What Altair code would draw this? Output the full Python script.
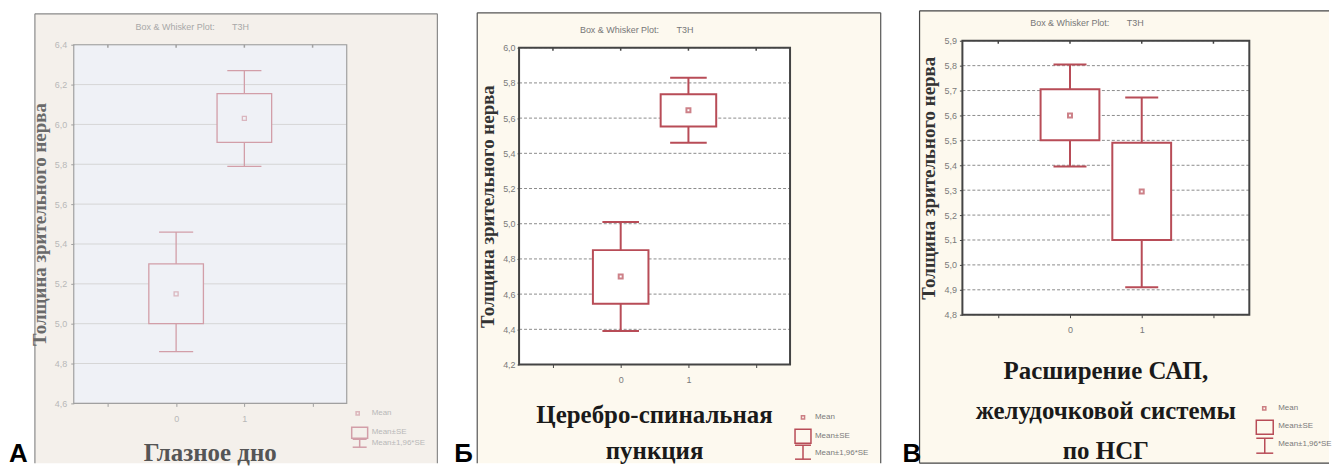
import altair as alt
import pandas as pd

# ---------------- data ----------------
groups = [0, 1]
x_tick_values = [-1, 0, 1, 2]

# Panel А  (Глазное дно)
a_mean = [5.15, 6.03]
a_se_lo = [5.00, 5.91]
a_se_hi = [5.30, 6.155]
a_ci_lo = [4.86, 5.79]
a_ci_hi = [5.46, 6.27]
a_ticks = [4.6, 4.8, 5.0, 5.2, 5.4, 5.6, 5.8, 6.0, 6.2, 6.4]

# Panel Б  (Церебро-спинальная пункция)
b_mean = [4.70, 5.645]
b_se_lo = [4.545, 5.553]
b_se_hi = [4.85, 5.735]
b_ci_lo = [4.39, 5.46]
b_ci_hi = [5.01, 5.83]
b_ticks = [4.2, 4.4, 4.6, 4.8, 5.0, 5.2, 5.4, 5.6, 5.8, 6.0]

# Panel В  (Расширение САП ...)
c_mean = [5.60, 5.295]
c_se_lo = [5.50, 5.10]
c_se_hi = [5.705, 5.49]
c_ci_lo = [5.395, 4.91]
c_ci_hi = [5.805, 5.672]
c_ticks = [4.8, 4.9, 5.0, 5.1, 5.2, 5.3, 5.4, 5.5, 5.6, 5.7, 5.8, 5.9]

y_title = "Толщина зрительного нерва"
plot_title = "Box & Whisker Plot:" + "\u00a0" * 7 + "T3H"
legend_labels = ["Mean", "Mean±SE", "Mean±1,96*SE"]
a_xtitle = ["Глазное дно"]
b_xtitle = ["Церебро-спинальная", "пункция"]
c_xtitle = ["Расширение САП,", "желудочковой системы", "по НСГ"]
panel_letters = ["А", "Б", "В"]

SANS = "Liberation Sans"
SERIF = "Liberation Serif"


def V(**kw):
    return {k: alt.value(v) for k, v in kw.items()}


def panel(mean, se_lo, se_hi, ci_lo, ci_hi, ticks, xtitle, letter, st):
    df = pd.DataFrame({"g": groups, "mean": mean, "se_lo": se_lo, "se_hi": se_hi,
                       "ci_lo": ci_lo, "ci_hi": ci_hi})
    df["box_l"] = df["g"] - st["box"]
    df["box_r"] = df["g"] + st["box"]
    df["cap_l"] = df["g"] - st["cap"]
    df["cap_r"] = df["g"] + st["cap"]
    tick_df = pd.DataFrame({"v": ticks})
    xtick_df = pd.DataFrame({"g": x_tick_values})
    one = pd.DataFrame({"k": [0]})
    w, top, bot = st["w"], st["top"], st["bot"]
    col = st["color"]

    xs = alt.Scale(domain=[-1.5, 2.5], nice=False, zero=False)
    ys = alt.Scale(domain=[ticks[0], ticks[-1]], range=[bot, top], nice=False, zero=False)
    yaxis = alt.Axis(values=ticks, labelExpr="replace(format(datum.value, '.1f'), '.', ',')",
                     grid=False, domain=False, ticks=True, tickSize=st["ytick"],
                     tickColor=st["border"], labelPadding=st["ylab_pad"], labelFontSize=9,
                     labelFont=SANS, labelColor=st["label_color"], labelOverlap=False,
                     labelFlush=False, title=y_title, titleFont=SERIF, titleFontWeight="bold",
                     titleFontSize=19, titleColor=st["ytitle_color"], titleAngle=270,
                     titleX=st["ytitle_x"], titleY=(top + bot) / 2, titleAlign="center",
                     titleBaseline="middle", zindex=1)
    xaxis = alt.Axis(values=x_tick_values,
                     labelExpr="datum.value == 0 || datum.value == 1 ? format(datum.value, 'd') : ''",
                     grid=False, domain=False, tickSize=3, tickColor=st["border"],
                     labelPadding=8, labelFontSize=9, labelFont=SANS,
                     labelColor=st["label_color"], labelOverlap=False, labelFlush=False,
                     title=None, zindex=1)

    def X(f):
        return alt.X(f"{f}:Q", scale=xs, axis=xaxis)

    def Y(f):
        return alt.Y(f"{f}:Q", scale=ys, axis=yaxis)

    fx0, fx1, fy0, fy1 = st["frame"]
    layers = []
    # outer frame
    layers.append(alt.Chart(one).mark_rect(fill=st["frame_fill"]).encode(
        **V(x=fx0, x2=fx1, y=fy0, y2=fy1)))
    for e in st["edges"]:
        if e == "top":
            enc = V(x=fx0, x2=fx1, y=fy0)
        elif e == "bottom":
            enc = V(x=fx0, x2=fx1, y=fy1)
        elif e == "left":
            enc = V(x=fx0, y=fy0, y2=fy1)
        else:
            enc = V(x=fx1, y=fy0, y2=fy1)
        layers.append(alt.Chart(one).mark_rule(color=st["frame_stroke"], strokeWidth=1.2).encode(**enc))
    # plot area background
    layers.append(alt.Chart(one).mark_rect(fill=st["plot_bg"]).encode(
        **V(x=0, x2=w, y=top, y2=bot)))
    # grid
    grid_kw = dict(color=st["grid_color"], strokeWidth=1)
    if st["grid_dash"]:
        grid_kw["strokeDash"] = st["grid_dash"]
    layers.append(alt.Chart(tick_df).mark_rule(**grid_kw).encode(
        y=Y("v"), x=alt.value(0), x2=alt.value(w)))
    # small inward ticks on the top edge (Statistica style)
    layers.append(alt.Chart(xtick_df).mark_rule(color=st["border"], strokeWidth=1.5).encode(
        x=X("g"), y=alt.value(top), y2=alt.value(top + 3)))
    # plot border
    layers.append(alt.Chart(one).mark_rect(fill="transparent", stroke=st["border"],
                                           strokeWidth=st["border_w"]).encode(
        **V(x=0, x2=w, y=top, y2=bot)))
    # whiskers
    layers.append(alt.Chart(df).mark_rule(color=col, strokeWidth=st["lw"]).encode(
        x=X("g"), y=Y("ci_lo"), y2="ci_hi:Q"))
    layers.append(alt.Chart(df).mark_rule(color=col, strokeWidth=st["lw"]).encode(
        x=X("cap_l"), x2="cap_r:Q", y=Y("ci_hi")))
    layers.append(alt.Chart(df).mark_rule(color=col, strokeWidth=st["lw"]).encode(
        x=X("cap_l"), x2="cap_r:Q", y=Y("ci_lo")))
    # boxes
    layers.append(alt.Chart(df).mark_rect(fill=st["plot_bg"], stroke=col,
                                          strokeWidth=st["lw"]).encode(
        x=X("box_l"), x2="box_r:Q", y=Y("se_lo"), y2="se_hi:Q"))
    # means
    layers.append(alt.Chart(df).mark_point(shape="square", size=16, filled=False, color=col,
                                           strokeWidth=st["lw"]).encode(
        x=X("g"), y=Y("mean")))
    # chart caption
    tx, ty = st["title_pos"]
    layers.append(alt.Chart(one).mark_text(font=SANS, fontSize=9, color=st["caption_color"],
                                           align="center", baseline="middle").encode(
        **V(x=tx, y=ty, text=plot_title)))
    # x title
    layers.append(alt.Chart(one).mark_text(font=SERIF, fontWeight="bold", fontSize=st["xt_size"],
                                           color=st["xtitle_color"], align="center",
                                           baseline="alphabetic", lineHeight=st["xt_lh"]).encode(
        **V(x=w / 2, y=st["xt_y"], text=xtitle)))
    # panel letter
    layers.append(alt.Chart(one).mark_text(font=SANS, fontWeight="bold", fontSize=26,
                                           color="black", align="left",
                                           baseline="alphabetic").encode(
        **V(x=st["letter_x"], y=423, text=letter)))
    # legend
    lg = st["legend"]
    layers.append(alt.Chart(one).mark_point(shape="square", size=10, filled=False, color=col,
                                            strokeWidth=1.5).encode(
        **V(x=lg["mx"], y=lg["ty"][0])))
    bx0, bx1, by0, by1 = lg["box"]
    layers.append(alt.Chart(one).mark_rect(fill="transparent", stroke=col, strokeWidth=1.5).encode(
        **V(x=bx0, x2=bx1, y=by0, y2=by1)))
    wx0, wx1, wy0, wy1 = lg["whisk"]
    wm = (wx0 + wx1) / 2
    layers.append(alt.Chart(one).mark_rule(color=col, strokeWidth=1.5).encode(
        **V(x=wm, y=wy0, y2=wy1)))
    layers.append(alt.Chart(one).mark_rule(color=col, strokeWidth=1.5).encode(
        **V(x=wx0, x2=wx1, y=wy0)))
    layers.append(alt.Chart(one).mark_rule(color=col, strokeWidth=1.5).encode(
        **V(x=wx0, x2=wx1, y=wy1)))
    for lab, ly in zip(legend_labels, lg["ty"]):
        layers.append(alt.Chart(one).mark_text(font=SANS, fontSize=8, color=st["label_color"],
                                               align="left", baseline="middle").encode(
            **V(x=lg["tx"], y=ly, text=lab)))

    return alt.layer(*layers).properties(width=w, height=bot)


st_a = dict(w=274, top=4, bot=364, box=0.4, cap=0.25, color="#d29ea8", lw=1.3,
            frame_fill="#f4f0eb", frame_stroke="#8a8a8a", frame=(-39, 365, -27, 424),
            edges=["top", "left", "right"], plot_bg="#eff1f6", grid_color="#d6d6d6",
            grid_dash=[], border="#a0a0a0", border_w=1.2, label_color="#b8b8b8",
            caption_color="#a8a8a8", ytitle_color="#6a6a6a", ytitle_x=-34, ylab_pad=4,
            ytick=3, xtitle_color="#555555", xt_size=25, xt_lh=36, xt_y=422,
            title_pos=(119, -14), letter_x=-65,
            legend=dict(mx=285, box=(279, 295, 388, 399), whisk=(280, 294, 400, 408),
                        tx=299, ty=[374, 393, 404]))

st_b = dict(w=272, top=7, bot=325, box=0.41, cap=0.27, color="#b84c57", lw=2,
            frame_fill="#fdf9ef", frame_stroke="#555555", frame=(-42, 363, -28, 424),
            edges=["top", "left", "right"], plot_bg="#ffffff", grid_color="#8c8c8c",
            grid_dash=[3, 2], border="#444444", border_w=2, label_color="#7a7a7a",
            caption_color="#777777", ytitle_color="#333333", ytitle_x=-32, ylab_pad=2,
            ytick=2, xtitle_color="#1a1a1a", xt_size=25, xt_lh=36, xt_y=384,
            title_pos=(118, -11), letter_x=-65,
            legend=dict(mx=285, box=(277, 293, 390, 404), whisk=(277, 293, 406, 420),
                        tx=297, ty=[378, 397, 414]))

st_c = dict(w=288, top=0, bot=275, box=0.41, cap=0.23, color="#b84c57", lw=2,
            frame_fill="#fdf9ee", frame_stroke="#444444", frame=(-43, 368, -30, 424),
            edges=["top", "left", "bottom"], plot_bg="#ffffff", grid_color="#8c8c8c",
            grid_dash=[3, 2], border="#444444", border_w=2, label_color="#7a7a7a",
            caption_color="#777777", ytitle_color="#333333", ytitle_x=-34, ylab_pad=3,
            ytick=3, xtitle_color="#1a1a1a", xt_size=25, xt_lh=40, xt_y=340,
            title_pos=(125, -18), letter_x=-60,
            legend=dict(mx=303, box=(295, 312, 381, 395), whisk=(295, 312, 399, 414),
                        tx=317, ty=[369, 387, 405]))

pa = panel(a_mean, a_se_lo, a_se_hi, a_ci_lo, a_ci_hi, a_ticks, a_xtitle, panel_letters[0], st_a)
pb = panel(b_mean, b_se_lo, b_se_hi, b_ci_lo, b_ci_hi, b_ticks, b_xtitle, panel_letters[1], st_b)
pc = panel(c_mean, c_se_lo, c_se_hi, c_ci_lo, c_ci_hi, c_ticks, c_xtitle, panel_letters[2], st_c)

chart = alt.hconcat(pa, pb, pc, spacing=173, bounds="flush", padding=0,
                    background="white").configure_view(stroke="transparent")

chart.save("out.html", embed_options={"renderer": "svg", "actions": False})
